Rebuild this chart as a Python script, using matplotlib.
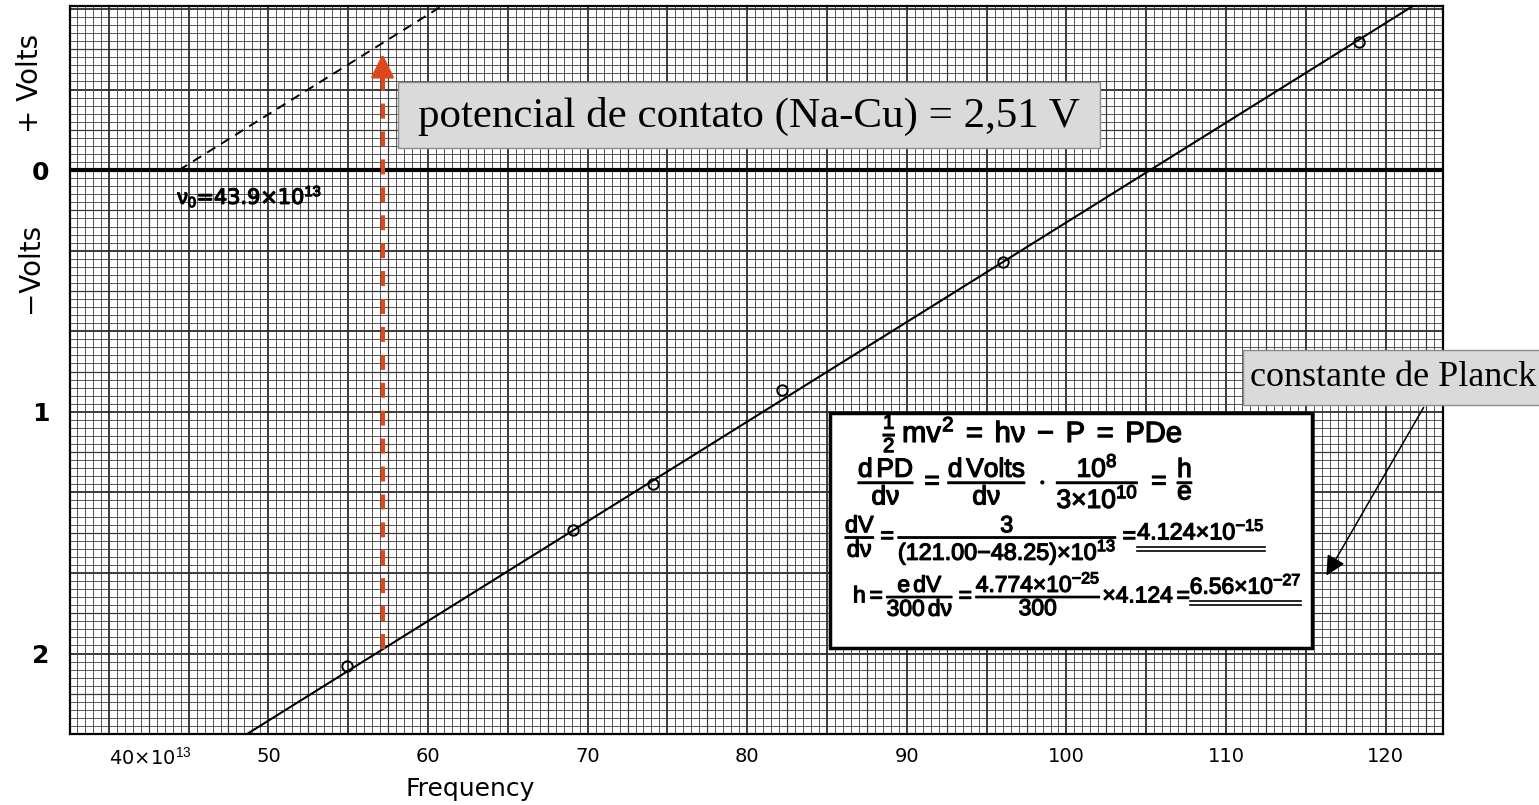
import numpy as np
import matplotlib
matplotlib.use("Agg")
import matplotlib.pyplot as plt
from matplotlib.patches import Rectangle, FancyArrowPatch
from matplotlib.ticker import MultipleLocator
import matplotlib.patheffects as pe

plt.rcParams["mathtext.fontset"] = "custom"
plt.rcParams["mathtext.rm"] = "Liberation Sans"
plt.rcParams["mathtext.it"] = "Liberation Sans"
plt.rcParams["mathtext.sf"] = "Liberation Sans"
plt.rcParams["mathtext.bf"] = "Liberation Sans:bold"

# ---------------- data ----------------
freq = [54.9, 69.1, 74.1, 82.2, 96.0, 118.3]          # 10^13 Hz
volts = [-2.05, -1.49, -1.30, -0.91, -0.38, 0.53]     # V
fit_freq = [48.25, 121.00]
fit_volts = [-2.35, 0.65]
dashed_freq = [44.4, 61.5]
dashed_volts = [0.0, 0.705]
arrow_freq = 57.15
arrow_from = -1.98
arrow_to = 0.48
x_ticks = [40, 50, 60, 70, 80, 90, 100, 110, 120]
x_ticklabels = ["40×10$^{13}$", "50", "60", "70", "80", "90", "100", "110", "120"]
y_ticks = [0, -1, -2]
y_ticklabels = ["0", "1", "2"]
xlim = (37.57, 123.59)
ylim = (-2.333, 0.679)

W, H = 1539, 805
fig = plt.figure(figsize=(W / 100, H / 100), dpi=100)
fig.patch.set_facecolor("white")


def fx(x):
    return x / W


def fy(y):
    return 1 - y / H


ax = fig.add_axes([fx(70), fy(734), fx(1443) - fx(70), fy(6) - fy(734)])
ax.set_xlim(*xlim)
ax.set_ylim(*ylim)
ax.set_facecolor("white")

# graph paper
ax.xaxis.set_minor_locator(MultipleLocator(0.5))
ax.yaxis.set_minor_locator(MultipleLocator(1 / 30))
ax.grid(which="minor", color="#3c3c3c", lw=0.6, zorder=0)
for xv in np.arange(37.5, 124.0, 2.5):
    heavy = abs(xv / 5 - round(xv / 5)) < 1e-6
    ax.axvline(xv, color="#1a1a1a", lw=1.2 if heavy else 0.85, zorder=0.5)
for yv in np.arange(-2.5, 0.8, 1 / 6):
    heavy = abs(yv * 3 - round(yv * 3)) < 1e-6
    ax.axhline(yv, color="#1a1a1a", lw=1.2 if heavy else 0.85, zorder=0.5)

for s in ax.spines.values():
    s.set_linewidth(1.6)
    s.set_color("black")

ax.axhline(0, color="black", lw=3.0, zorder=3)

# fitted line, shifted line, data points
ax.axline((fit_freq[0], fit_volts[0]), (fit_freq[1], fit_volts[1]),
          color="black", lw=1.5, zorder=4)
ax.plot(dashed_freq, dashed_volts, color="black", lw=1.4, dashes=(5, 3.5), zorder=4)
ax.plot(freq, volts, "o", ms=7.5, mfc="none", mec="black", mew=1.4, zorder=5)

# red arrow
red = "#E0461C"
ax.plot([arrow_freq, arrow_freq], [arrow_from, arrow_to - 0.055], color=red, lw=3,
        dashes=(3.6, 3.1), zorder=6, solid_capstyle="butt")
ax.annotate("", xy=(arrow_freq, arrow_to), xytext=(arrow_freq, arrow_to - 0.065),
            arrowprops=dict(arrowstyle="-|>,head_length=0.9,head_width=0.45",
                            color=red, lw=2, mutation_scale=16,
                            shrinkA=0, shrinkB=0), zorder=6)

stroke = [pe.withStroke(linewidth=0.9, foreground="black")]
ax.text(44.3, -0.11, r"$\nu_0$=43.9×10$^{13}$", fontsize=15,
        ha="left", va="center", zorder=6, path_effects=stroke)

# ticks
ax.set_xticks(x_ticks)
ax.set_xticklabels(x_ticklabels, fontsize=14)
ax.get_xticklabels()[0].set_ha("left")
ax.set_yticks(y_ticks)
ax.set_yticklabels(y_ticklabels, fontsize=18, fontweight="bold")
ax.tick_params(axis="both", which="both", length=0)
ax.tick_params(axis="x", pad=9)
ax.tick_params(axis="y", pad=15)

fig.text(fx(470), fy(789), "Frequency", fontsize=18, ha="center", va="center")
fig.text(fx(30), fy(83), "+ Volts", fontsize=20, rotation=90, ha="center", va="center")
fig.text(fx(30), fy(268), "−Volts", fontsize=20, rotation=90, ha="center", va="center")

# equation box
fig.add_artist(Rectangle((fx(830), fy(648)), fx(1312) - fx(830), fy(413) - fy(648),
                         transform=fig.transFigure, facecolor="white",
                         edgecolor="black", lw=2.5, zorder=2))

renderer = fig.canvas.get_renderer()

eq_lines = [
    (883, 433, 1193, r"$\frac{1}{2}\,mv^2 \;=\; h\nu \;-\; P \;=\; PDe$", None, 21.0),
    (858, 482, 1235, r"$\dfrac{d\,PD}{d\nu} \,=\, \dfrac{d\,Volts}{d\nu}\;\cdot\;\dfrac{10^8}{3{\times}10^{10}} \;=\; \dfrac{h}{e}$", None, 19.0),
    (845, 540, 1265, r"$\dfrac{dV}{d\nu}{=}\dfrac{3}{(121.00{-}48.25){\times}10^{13}}{=}$", r"$4.124{\times}10^{-15}$", 20.0),
    (853, 594, 1303, r"$h{=}\dfrac{e\,dV}{300\,d\nu}{=}\dfrac{4.774{\times}10^{-25}}{300}{\times}4.124{=}$", r"$6.56{\times}10^{-27}$", 20.0),
]
for (x0, yc, x1, a, b, fs_max) in eq_lines:
    fs = 16.0
    for it in range(2):
        ta = fig.text(fx(x0), fy(yc), a, fontsize=fs, ha="left", va="center", zorder=3,
                      path_effects=stroke)
        bb = ta.get_window_extent(renderer)
        total = bb.width
        tb = None
        if b is not None:
            tb = fig.text(bb.x1 / W, fy(yc) + 8 / H, b, fontsize=fs, ha="left",
                          va="center", zorder=3, path_effects=stroke)
            bbb = tb.get_window_extent(renderer)
            total = bbb.x1 - bb.x0
        if it == 0:
            ta.remove()
            if tb is not None:
                tb.remove()
            fs = min(fs * (x1 - x0) / total, fs_max)
    if tb is not None:
        bbb = tb.get_window_extent(renderer)
        for off in (2, 6):
            fig.add_artist(plt.Line2D([bbb.x0 / W, bbb.x1 / W],
                                      [(bbb.y0 - off) / H, (bbb.y0 - off) / H],
                                      transform=fig.transFigure, color="black",
                                      lw=1.2, zorder=3))

# grey annotation boxes
serif = ["Liberation Serif", "DejaVu Serif"]
fig.add_artist(Rectangle((fx(398), fy(148)), fx(1100) - fx(398), fy(82) - fy(148),
                         transform=fig.transFigure, facecolor="#DADADA",
                         edgecolor="#8C8C8C", lw=1, zorder=2))
fig.text(fx(749), fy(116), "potencial de contato (Na-Cu) = 2,51 V", family=serif,
         fontsize=31, ha="center", va="center", zorder=3)

fig.add_artist(Rectangle((fx(1243), fy(405)), fx(1545) - fx(1243), fy(350) - fy(405),
                         transform=fig.transFigure, facecolor="#DADADA",
                         edgecolor="#8C8C8C", lw=1, zorder=2))
fig.text(fx(1250), fy(378), "constante de Planck", family=serif,
         fontsize=26, ha="left", va="center", zorder=3)

fig.add_artist(FancyArrowPatch((fx(1425), fy(405)), (fx(1325), fy(578)),
                               transform=fig.transFigure,
                               arrowstyle="-|>,head_length=0.6,head_width=0.3",
                               mutation_scale=20, color="black", lw=1.1, zorder=3))

fig.savefig("out.png", dpi=100, facecolor="white")
